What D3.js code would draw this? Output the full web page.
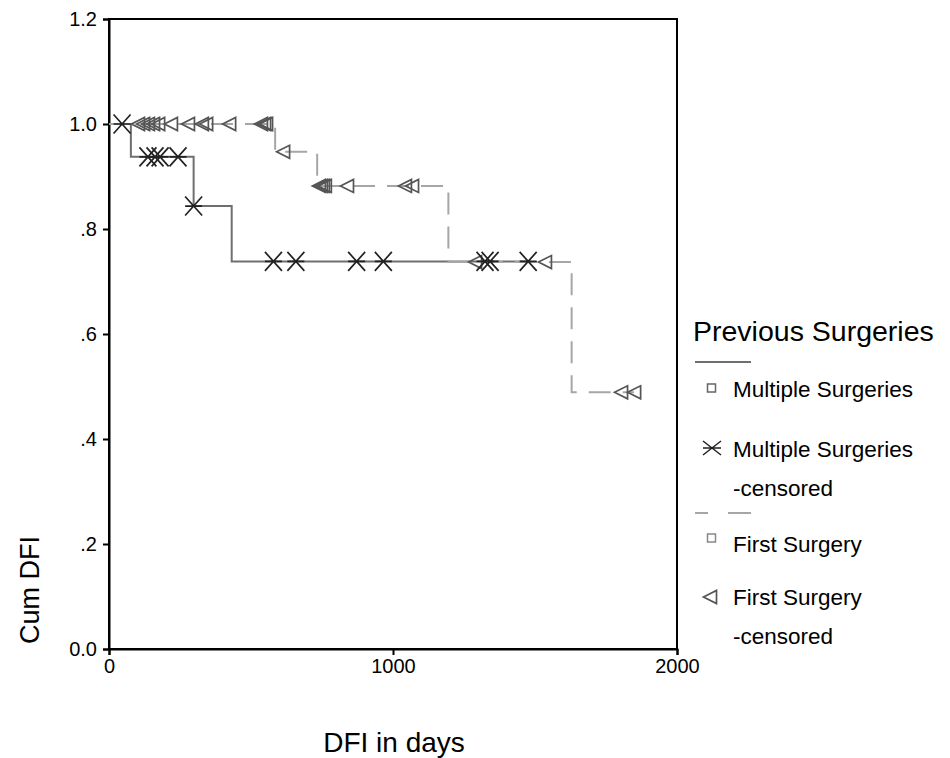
<!DOCTYPE html>
<html>
<head>
<meta charset="utf-8">
<script src="https://cdn.jsdelivr.net/npm/d3@7"></script>
<style>
  html, body { margin: 0; padding: 0; background: #fff; }
  svg { display: block; font-family: Arial, "Liberation Sans", sans-serif; }
</style>
</head>
<body>
<svg id="chart" width="950" height="758"></svg>
<script>
// ---- data ----
const xTicks = [0, 1000, 2000];
const yTicks = [0, 0.2, 0.4, 0.6, 0.8, 1.0, 1.2];
const yTickLabels = ["0.0", ".2", ".4", ".6", ".8", "1.0", "1.2"];

// Multiple Surgeries (solid)
const multiEventDays = [77, 298, 432];
const multiSurvival = [1.0, 0.9375, 0.84375, 0.7383];
const multiCensorDays = [46, 137, 162, 180, 243, 298, 579, 658, 872, 966, 1324, 1342, 1476];
const multiEnd = 1476;

// First Surgery (dashed)
const firstEventDays = [585, 733, 1195, 1629];
const firstSurvival = [1.0, 0.947, 0.882, 0.737, 0.489];
const firstCensorDays = [102, 120, 137, 155, 173, 218, 278, 327, 342, 423, 535, 546, 553,
                         613, 739, 746, 753, 760, 838, 1042, 1067, 1289, 1535, 1803, 1849];
const firstEnd = 1849;

const legendTitle = "Previous Surgeries";
const legendLabels = [["Multiple Surgeries"], ["Multiple Surgeries", "-censored"], ["First Surgery"], ["First Surgery", "-censored"]];

// ---- layout ----
const svg = d3.select("#chart");
const L = 109, R = 677, T = 19, B = 649;
const x = d3.scaleLinear().domain([0, 2000]).range([L, R]);
const y = d3.scaleLinear().domain([0, 1.2]).range([B, T]);

function survAt(events, surv, t) {
  let k = 0;
  events.forEach(e => { if (e <= t) k++; });
  return surv[k];
}
function stepPath(events, surv, end) {
  const p = d3.path();
  p.moveTo(x(0), y(surv[0]));
  events.forEach((e, i) => {
    p.lineTo(x(e), y(surv[i]));
    p.lineTo(x(e), y(surv[i + 1]));
  });
  p.lineTo(x(end), y(surv[events.length]));
  return p.toString();
}

// frame
svg.append("rect").attr("x", L).attr("y", T).attr("width", R - L).attr("height", B - T)
  .attr("fill", "none").attr("stroke", "#000").attr("stroke-width", 2);

// axes
const yAxis = d3.axisLeft(y).tickValues(yTicks).tickSize(6).tickPadding(6)
  .tickFormat((d, i) => yTickLabels[i]);
const gy = svg.append("g").attr("transform", `translate(${L},0)`).call(yAxis);
const xAxis = d3.axisBottom(x).tickValues(xTicks).tickSize(6).tickPadding(4).tickFormat(d3.format("d"));
const gx = svg.append("g").attr("transform", `translate(0,${B})`).call(xAxis);
[gx, gy].forEach(g => {
  g.select(".domain").attr("stroke", "#000").attr("stroke-width", 2);
  g.selectAll(".tick line").attr("stroke", "#000").attr("stroke-width", 2);
  g.selectAll(".tick text").attr("fill", "#000").style("font-size", "20px")
    .style("font-family", "Arial, 'Liberation Sans', sans-serif");
});

// axis titles
svg.append("text").attr("x", 394).attr("y", 752).attr("text-anchor", "middle")
  .style("font-size", "28px").text("DFI in days");
svg.append("text").attr("transform", "translate(39,590) rotate(-90)").attr("text-anchor", "middle")
  .style("font-size", "27px").text("Cum DFI");

// lines
const solidColor = "#6f6f6f", dashColor = "#a6a6a6";
svg.append("path").attr("d", stepPath(multiEventDays, multiSurvival, multiEnd))
  .attr("fill", "none").attr("stroke", solidColor).attr("stroke-width", 2);
svg.append("path").attr("d", stepPath(firstEventDays, firstSurvival, firstEnd))
  .attr("fill", "none").attr("stroke", dashColor).attr("stroke-width", 2)
  .attr("stroke-dasharray", "22,12");

// markers
const xMark = "M-8.5,-9.5L8.5,9.5M-8.5,9.5L8.5,-9.5M-8.5,0L8.5,0";
const triMark = "M-6.5,0L6.5,-6.5L6.5,6.5Z";
svg.append("g").selectAll("path").data(firstCensorDays).join("path")
  .attr("transform", d => `translate(${x(d)},${y(survAt(firstEventDays, firstSurvival, d))})`)
  .attr("d", triMark).attr("fill", "none").attr("stroke", "#555").attr("stroke-width", 1.7);
svg.append("g").selectAll("path").data(multiCensorDays).join("path")
  .attr("transform", d => `translate(${x(d)},${y(survAt(multiEventDays, multiSurvival, d))})`)
  .attr("d", xMark).attr("fill", "none").attr("stroke", "#222").attr("stroke-width", 1.7);

// legend
const lg = svg.append("g");
lg.append("text").attr("x", 693).attr("y", 341).style("font-size", "28.5px").attr("fill", "#000").text(legendTitle);
lg.append("line").attr("x1", 695).attr("x2", 751).attr("y1", 362).attr("y2", 362)
  .attr("stroke", solidColor).attr("stroke-width", 2);
lg.append("line").attr("x1", 695).attr("x2", 751).attr("y1", 513).attr("y2", 513)
  .attr("stroke", dashColor).attr("stroke-width", 2).attr("stroke-dasharray", "13,20,23");
lg.append("rect").attr("x", 707.5).attr("y", 384).attr("width", 8).attr("height", 8)
  .attr("fill", "#fff").attr("stroke", "#666").attr("stroke-width", 1.5);
lg.append("rect").attr("x", 707.5).attr("y", 534).attr("width", 8).attr("height", 8)
  .attr("fill", "#fff").attr("stroke", "#888").attr("stroke-width", 1.5);
lg.append("path").attr("transform", "translate(712,448)")
  .attr("d", "M-9,-7L9,7M-9,7L9,-7M-9,0L9,0").attr("fill", "none").attr("stroke", "#222").attr("stroke-width", 1.5);
lg.append("path").attr("transform", "translate(710,597)").attr("d", triMark)
  .attr("fill", "none").attr("stroke", "#555").attr("stroke-width", 1.7);
const textRows = [[legendLabels[0][0], 397], [legendLabels[1][0], 457], [legendLabels[1][1], 496],
                  [legendLabels[2][0], 552], [legendLabels[3][0], 605], [legendLabels[3][1], 644]];
textRows.forEach(([t, yy]) => {
  lg.append("text").attr("x", 733).attr("y", yy).style("font-size", "22.5px").attr("fill", "#000").text(t);
});
</script>
</body>
</html>
